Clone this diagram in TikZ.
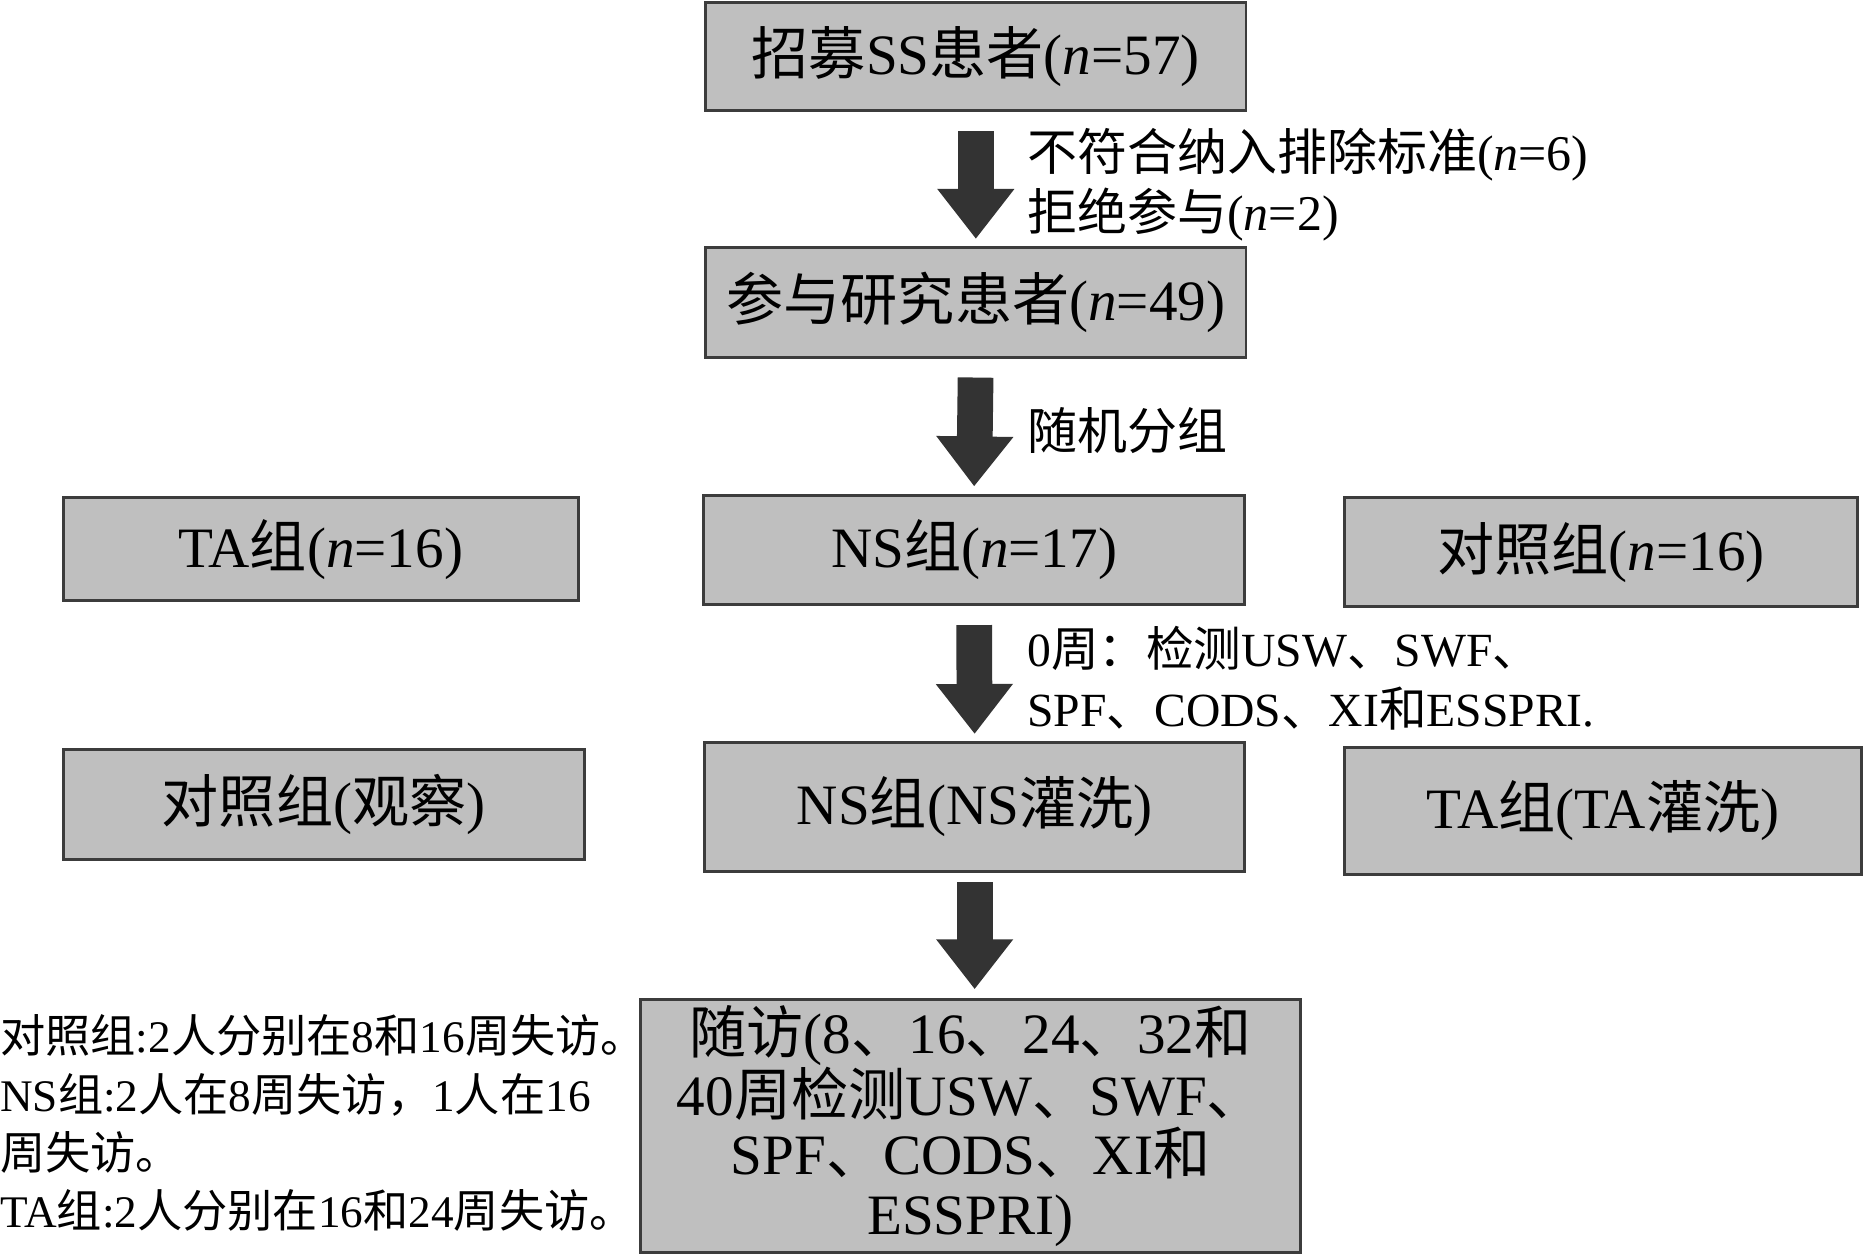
\documentclass[tikz,border=0pt]{standalone}
\usepackage{fontspec}
\setmainfont{Liberation Serif}
\newfontfamily\cjk{Noto Sans CJK SC}
\newcommand\zh[1]{{\cjk #1}}
\usetikzlibrary{arrows.meta}
\definecolor{boxgray}{HTML}{BFBFBF}
\definecolor{boxline}{HTML}{3C3C3C}
\definecolor{arrowgray}{HTML}{333333}
\tikzset{
  box/.style={draw=boxline, line width=2.5pt, fill=boxgray, inner sep=0pt, align=center, font=\fontsize{48}{50}\selectfont},
  bigarrow/.style={draw=arrowgray, line width=30pt, -{Triangle[width=62pt,length=42pt]}, shorten <=16pt, shorten >=6pt},
  note/.style={anchor=west, align=left, inner sep=0pt, font=\fontsize{42}{50}\selectfont},
}

\begin{document}
\begin{tikzpicture}[x=1pt, y=-1pt]
  \useasboundingbox[fill=white] (0,0) rectangle (1568,1056);
  \node[box, minimum width=454pt, minimum height=91pt] (recruit) at(820,47.5){\zh{招募}SS\zh{患者}(\textit{n}=57)};
  \node[box, minimum width=454pt, minimum height=92pt] (study) at(820,254){\zh{参与研究患者}(\textit{n}=49)};
  \node[box, minimum width=433pt, minimum height=87pt] (ta) at(269.5,461.5){TA\zh{组}(\textit{n}=16)};
  \node[box, minimum width=455pt, minimum height=92pt] (ns) at(818.5,462){NS\zh{组}(\textit{n}=17)};
  \node[box, minimum width=431pt, minimum height=92pt] (ctrl) at(1345.5,464){\zh{对照组}(\textit{n}=16)};
  \node[box, minimum width=438pt, minimum height=92pt] (ctrlobs) at(272,676){\zh{对照组}(\zh{观察})};
  \node[box, minimum width=454pt, minimum height=108pt] (nswash) at(819,678){NS\zh{组}(NS\zh{灌洗})};
  \node[box, minimum width=434pt, minimum height=107pt] (tawash) at(1347,681.5){TA\zh{组}(TA\zh{灌洗})};
  \node[box, minimum width=555pt, minimum height=213pt] (follow) at(815.5,946){\zh{随访}(8\zh{、}16\zh{、}24\zh{、}32\zh{和}\\40\zh{周检测}USW\zh{、}SWF\zh{、}\\SPF\zh{、}CODS\zh{、}XI\zh{和}\\ESSPRI)};

  \draw[bigarrow] (recruit.south) -- (study.north);
  \draw[bigarrow] (study.south) -- (ns.north);
  \draw[bigarrow] (ns.south) -- (nswash.north);
  \draw[bigarrow, shorten <=8pt, shorten >=7pt] (nswash.south) -- (nswash.south |- follow.north);

  \node[note] (excl) at(863,155){\zh{不符合纳入排除标准}(\textit{n}=6)\\\zh{拒绝参与}(\textit{n}=2)};
  \node[note] (rand) at(863,362){\zh{随机分组}};
  \node[note, font=\fontsize{40}{50}\selectfont] (week0) at(863,570){0\zh{周：检测}USW\zh{、}SWF\zh{、}\\SPF\zh{、}CODS\zh{、}XI\zh{和}ESSPRI.};
  \node[note, font=\fontsize{38}{49}\selectfont] (lost) at(0,944){\zh{对照组}:2\zh{人分别在}8\zh{和}16\zh{周失访。}\\NS\zh{组}:2\zh{人在}8\zh{周失访，}1\zh{人在}16\\\zh{周失访。}\\TA\zh{组}:2\zh{人分别在}16\zh{和}24\zh{周失访。}};
\end{tikzpicture}
\end{document}
